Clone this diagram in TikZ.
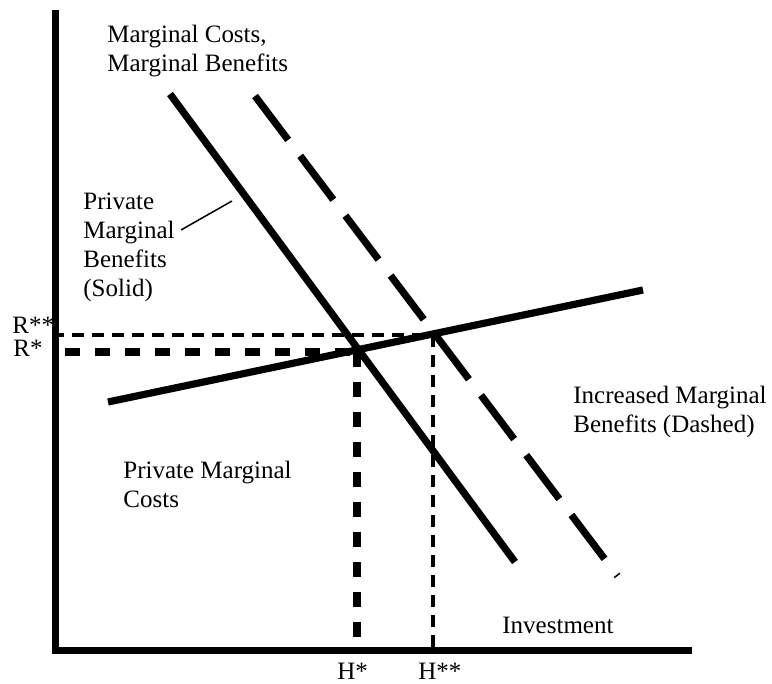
\documentclass[tikz,border=0pt]{standalone}
\usepackage{fontspec}
\setmainfont{Liberation Serif}
\begin{document}
\begin{tikzpicture}[x=0.5pt,y=-0.5pt,
  lbl/.style={font=\fontsize{12.5}{14.5}\selectfont, inner sep=0pt, align=left},
  axisline/.style={line width=3.5pt},
  curve/.style={line width=3.6pt},
  dashcurve/.style={line width=3.6pt, dash pattern=on 27.5pt off 10pt},
  thickdash/.style={line width=3.8pt, dash pattern=on 7.5pt off 7.5pt},
  thindash/.style={line width=2pt, dash pattern=on 6pt off 4pt},
  leader/.style={line width=0.75pt}]
\useasboundingbox (0,0) rectangle (772,684);
% coordinates
\coordinate (ytop) at (55.5,10);
\coordinate (origin) at (55.5,650);
\coordinate (xend) at (692,650);
\coordinate (s1) at (170,94);
\coordinate (s2) at (515,562);
\coordinate (d1) at (255,96);
\coordinate (d2) at (617.5,576);
\coordinate (c1) at (108,402);
\coordinate (c2) at (643,290);
\coordinate (rss) at (52,335);
\coordinate (hss) at (433,335);
\coordinate (rs) at (65,352);
\coordinate (hs) at (357,352);
\coordinate (hsb) at (357,650);
\coordinate (hssb) at (433,650);
\coordinate (leadA) at (181,230);
\coordinate (leadB) at (232,201);
% axes
\draw[axisline] (ytop) -- (55.5,653.5);
\draw[axisline] (52,650) -- (xend);
% dashed guides
\draw[thindash] (rss) -- (hss);
\draw[thindash] (hss) -- (hssb);
\draw[thickdash] (rs) -- (hs);
\draw[thickdash] (hs) -- (hsb);
% curves
\draw[curve] (s1) -- (s2);
\draw[dashcurve] (d1) -- (d2);
\draw[curve] (c1) -- (c2);
\draw[leader] (leadA) -- (leadB);
% labels
\node[lbl, anchor=north west] (mcmb) at (107,25) {Marginal Costs,\\Marginal Benefits};
\node[lbl, anchor=north west] (pmb) at (83,193) {Private\\Marginal\\Benefits\\(Solid)};
\node[lbl, anchor=north west] (imb) at (573,386) {Increased Marginal\\Benefits (Dashed)};
\node[lbl, anchor=north west] (pmc) at (123,461) {Private Marginal\\Costs};
\node[lbl, anchor=base west] (inv) at (502,633) {Investment};
\node[lbl, anchor=base west] (rsslbl) at (12,334) {R**};
\node[lbl, anchor=base west] (rslbl) at (13,357) {R*};
\node[lbl, anchor=base west] (hslbl) at (337,679) {H*};
\node[lbl, anchor=base west] (hsslbl) at (418,679) {H**};
\end{tikzpicture}
\end{document}
